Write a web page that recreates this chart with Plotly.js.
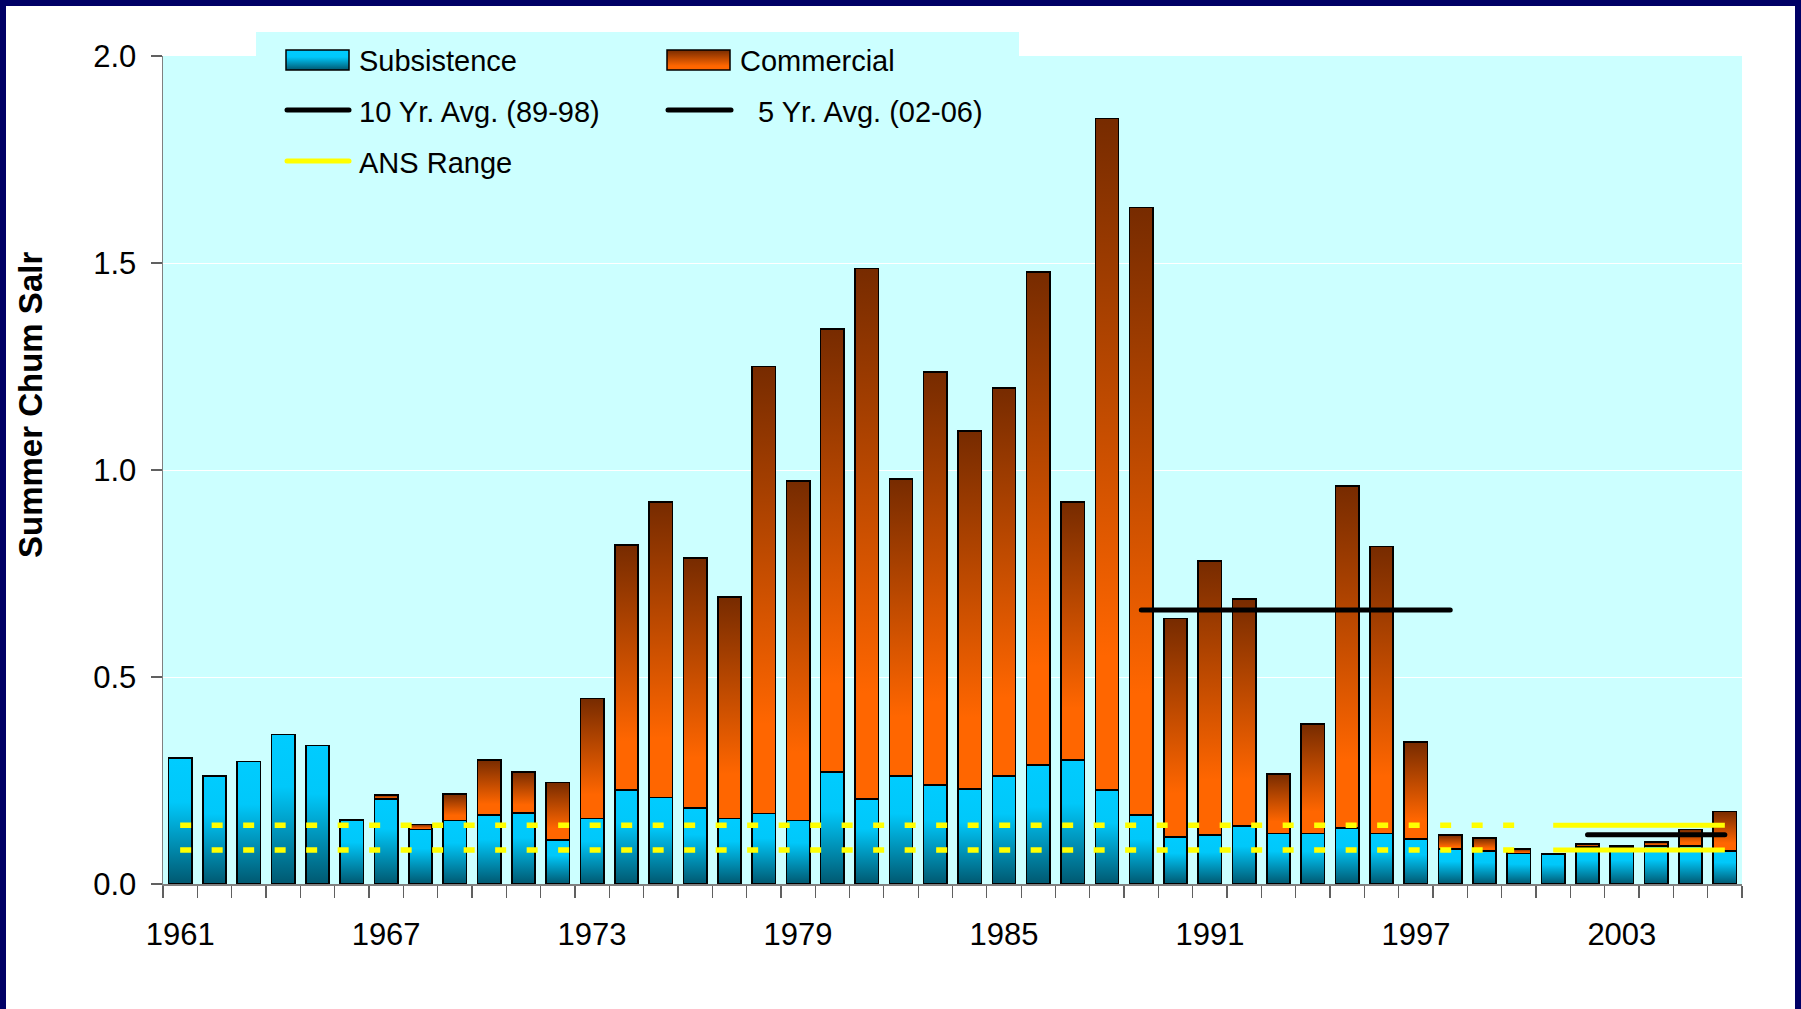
<!DOCTYPE html>
<html>
<head>
<meta charset="utf-8">
<script src="https://cdn.plot.ly/plotly-3.0.1.min.js"></script>
<style>
  html, body { margin: 0; padding: 0; background: #ffffff; }
  #chart { width: 1801px; height: 1009px; }
</style>
</head>
<body>
<div id="chart"></div>
<script>
// ---------------- data ----------------
const years = [1961,1962,1963,1964,1965,1966,1967,1968,1969,1970,
               1971,1972,1973,1974,1975,1976,1977,1978,1979,1980,
               1981,1982,1983,1984,1985,1986,1987,1988,1989,1990,
               1991,1992,1993,1994,1995,1996,1997,1998,1999,2000,
               2001,2002,2003,2004,2005,2006];
const subsistence = [0.304,0.261,0.296,0.361,0.335,0.155,0.205,0.132,0.153,0.166,
                     0.171,0.106,0.158,0.227,0.209,0.184,0.158,0.170,0.153,0.270,
                     0.205,0.261,0.239,0.230,0.261,0.287,0.300,0.227,0.167,0.114,
                     0.118,0.140,0.122,0.122,0.136,0.122,0.109,0.084,0.080,0.074,
                     0.072,0.089,0.088,0.092,0.092,0.080];
const commercial  = [0.000,0.000,0.000,0.000,0.000,0.000,0.010,0.012,0.065,0.134,
                     0.100,0.139,0.290,0.592,0.713,0.604,0.535,1.080,0.821,1.071,
                     1.282,0.717,0.998,0.864,0.937,1.191,0.622,1.622,1.467,0.527,
                     0.662,0.548,0.144,0.264,0.825,0.693,0.234,0.034,0.031,0.011,
                     0.000,0.008,0.004,0.010,0.040,0.095];
const tenYrAvg = 0.662, tenYrSpan = [1989, 1998];
const fiveYrAvg = 0.119, fiveYrSpan = [2002, 2006];
const ansRange = [0.082, 0.142];
const ansPastSpan = [1961, 2000];
const ansNowSpan = [2001, 2006];
const xTickYears = [1961, 1967, 1973, 1979, 1985, 1991, 1997, 2003];
const yTicks = [0, 0.5, 1.0, 1.5, 2.0];

// ---------------- geometry helpers (page pixels -> paper) ----------------
const W = 1801, H = 1009, L = 163, R = 1742, T = 56, B = 884;
const px = x => (x - L) / (R - L);
const py = y => (B - y) / (B - T);

const FONT = '"Liberation Sans", Arial, sans-serif';
const BG = '#CCFFFF';

function hline(span, val, color, width, dash, name) {
  return {
    type: 'scatter', mode: 'lines', name: name,
    x: span, y: [val, val],
    line: { color: color, width: width, dash: dash || 'solid' },
    hoverinfo: 'skip', showlegend: false
  };
}

const traces = [
  { type: 'bar', name: 'Subsistence', x: years, y: subsistence,
    marker: { color: 'rgb(0,204,255)', line: { color: '#000000', width: 1.6 } },
    showlegend: false },
  { type: 'bar', name: 'Commercial', x: years, y: commercial,
    marker: { color: 'rgb(255,102,0)', line: { color: '#000000', width: 1.6 } },
    showlegend: false },
  hline(ansPastSpan, ansRange[1], '#FFFF00', 5.5, '11px,20.5px', 'ANS Range'),
  hline(ansPastSpan, ansRange[0], '#FFFF00', 5.5, '11px,20.5px', 'ANS Range'),
  hline(ansNowSpan, ansRange[1], '#FFFF00', 5, null, 'ANS Range'),
  hline(ansNowSpan, ansRange[0], '#FFFF00', 5, null, 'ANS Range'),
  hline(tenYrSpan, tenYrAvg, '#000000', 5, null, '10 Yr. Avg. (89-98)'),
  hline(fiveYrSpan, fiveYrAvg, '#000000', 5, null, '5 Yr. Avg. (02-06)')
];

const navy = '#000066';
const shapes = [
  // slide frame
  { type: 'rect', xref: 'paper', yref: 'paper', x0: px(0), x1: px(6), y0: py(H), y1: py(0), fillcolor: navy, line: { width: 0 }, layer: 'above' },
  { type: 'rect', xref: 'paper', yref: 'paper', x0: px(0), x1: px(W), y0: py(6), y1: py(0), fillcolor: navy, line: { width: 0 }, layer: 'above' },
  { type: 'rect', xref: 'paper', yref: 'paper', x0: px(1795), x1: px(W), y0: py(H), y1: py(0), fillcolor: navy, line: { width: 0 }, layer: 'above' },
  // legend box (upper part that sticks out above the plot area)
  { type: 'rect', xref: 'paper', yref: 'paper', x0: px(256), x1: px(1019), y0: py(56), y1: py(32), fillcolor: BG, line: { width: 0 }, layer: 'below' },
  // legend swatches
  { type: 'rect', xref: 'paper', yref: 'paper', x0: px(286), x1: px(349), y0: py(70), y1: py(50), fillcolor: 'rgb(0,204,255)', line: { color: '#000', width: 1.5 }, layer: 'above' },
  { type: 'rect', xref: 'paper', yref: 'paper', x0: px(667), x1: px(730), y0: py(70), y1: py(50), fillcolor: 'rgb(255,102,0)', line: { color: '#000', width: 1.5 }, layer: 'above' },
  { type: 'line', xref: 'paper', yref: 'paper', x0: px(287), x1: px(349), y0: py(110), y1: py(110), line: { color: '#000', width: 5 }, layer: 'above' },
  { type: 'line', xref: 'paper', yref: 'paper', x0: px(668), x1: px(731), y0: py(110), y1: py(110), line: { color: '#000', width: 5 }, layer: 'above' },
  { type: 'line', xref: 'paper', yref: 'paper', x0: px(287), x1: px(349), y0: py(161), y1: py(161), line: { color: '#FFFF00', width: 5 }, layer: 'above' }
];

function legText(text, x, y) {
  return { xref: 'paper', yref: 'paper', x: px(x), y: py(y), xanchor: 'left', yanchor: 'middle',
           text: text, showarrow: false, font: { family: FONT, size: 29, color: '#000' } };
}

const annotations = [
  legText('Subsistence', 357, 61),
  legText('Commercial', 738, 61),
  legText('10 Yr. Avg. (89-98)', 357, 112),
  legText('5 Yr. Avg. (02-06)', 756, 112),
  legText('ANS Range', 357, 163),
  { xref: 'paper', yref: 'paper', x: px(30), y: py(405), xanchor: 'center', yanchor: 'middle',
    text: '<b>Summer Chum Salr</b>', textangle: -90, showarrow: false,
    font: { family: FONT, size: 33, color: '#000' } }
];

const layout = {
  width: W, height: H,
  margin: { l: L, r: W - R, t: T, b: H - B, pad: 0 },
  paper_bgcolor: '#FFFFFF',
  plot_bgcolor: BG,
  barmode: 'stack',
  bargap: 0.32,
  showlegend: false,
  font: { family: FONT, color: '#000' },
  xaxis: {
    type: 'linear', range: [1960.5, 2006.5], fixedrange: true,
    tickmode: 'array', tickvals: xTickYears, ticktext: xTickYears.map(String),
    ticks: '', showgrid: false, zeroline: false,
    showline: true, linecolor: '#808080', linewidth: 1.5,
    tickfont: { family: FONT, size: 31, color: '#000' },
    ticklabelstandoff: 22,
    minor: { tickmode: 'linear', tick0: 1960.5, dtick: 1, ticks: 'outside', ticklen: 12,
             tickcolor: '#606060', tickwidth: 1.3, showgrid: false }
  },
  yaxis: {
    range: [0, 2], fixedrange: true,
    tickmode: 'array', tickvals: yTicks, ticktext: yTicks.map(v => v.toFixed(1)),
    ticks: 'outside', ticklen: 11, tickcolor: '#606060', tickwidth: 1.3,
    showline: true, linecolor: '#808080', linewidth: 1.5,
    showgrid: true, gridcolor: '#FFFFFF', gridwidth: 1,
    zeroline: false,
    tickfont: { family: FONT, size: 31, color: '#000' },
    ticklabelstandoff: 8
  },
  shapes: shapes,
  annotations: annotations
};

const gd = document.getElementById('chart');
Plotly.newPlot(gd, traces, layout, { staticPlot: true, displayModeBar: false }).then(() => {
  const NS = 'http://www.w3.org/2000/svg';
  const svg = gd.querySelector('.main-svg');
  let defs = svg.querySelector('defs');
  if (!defs) { defs = document.createElementNS(NS, 'defs'); svg.insertBefore(defs, svg.firstChild); }
  function grad(id, stops) {
    const g = document.createElementNS(NS, 'linearGradient');
    g.setAttribute('id', id);
    g.setAttribute('x1', '0'); g.setAttribute('y1', '0');
    g.setAttribute('x2', '0'); g.setAttribute('y2', '1');
    stops.forEach(s => {
      const st = document.createElementNS(NS, 'stop');
      st.setAttribute('offset', s[0]);
      st.setAttribute('stop-color', s[1]);
      g.appendChild(st);
    });
    defs.appendChild(g);
  }
  grad('gSub', [[0, '#00CCFF'], [0.35, '#00C8FA'], [1, '#005870']]);
  grad('gCom', [[0, '#772B00'], [0.8, '#FF6600'], [1, '#FF6600']]);

  const barTraces = gd.querySelectorAll('.barlayer .trace');
  if (barTraces[0]) barTraces[0].querySelectorAll('path').forEach(p => { p.style.fill = 'url(#gSub)'; });
  if (barTraces[1]) barTraces[1].querySelectorAll('path').forEach(p => { p.style.fill = 'url(#gCom)'; });

  gd.querySelectorAll('.shapelayer path').forEach(p => {
    const f = p.style.fill.replace(/\s/g, '');
    if (f === 'rgb(0,204,255)') p.style.fill = 'url(#gSub)';
    if (f === 'rgb(255,102,0)') p.style.fill = 'url(#gCom)';
    if (p.style.stroke && p.style.strokeWidth === '5px') p.style.strokeLinecap = 'round';
  });

  const sc = gd.querySelectorAll('.scatterlayer .trace');
  [4, 5, 6, 7].forEach(i => {
    if (sc[i]) sc[i].querySelectorAll('path.js-line').forEach(p => { p.style.strokeLinecap = 'round'; });
  });
});
</script>
</body>
</html>
